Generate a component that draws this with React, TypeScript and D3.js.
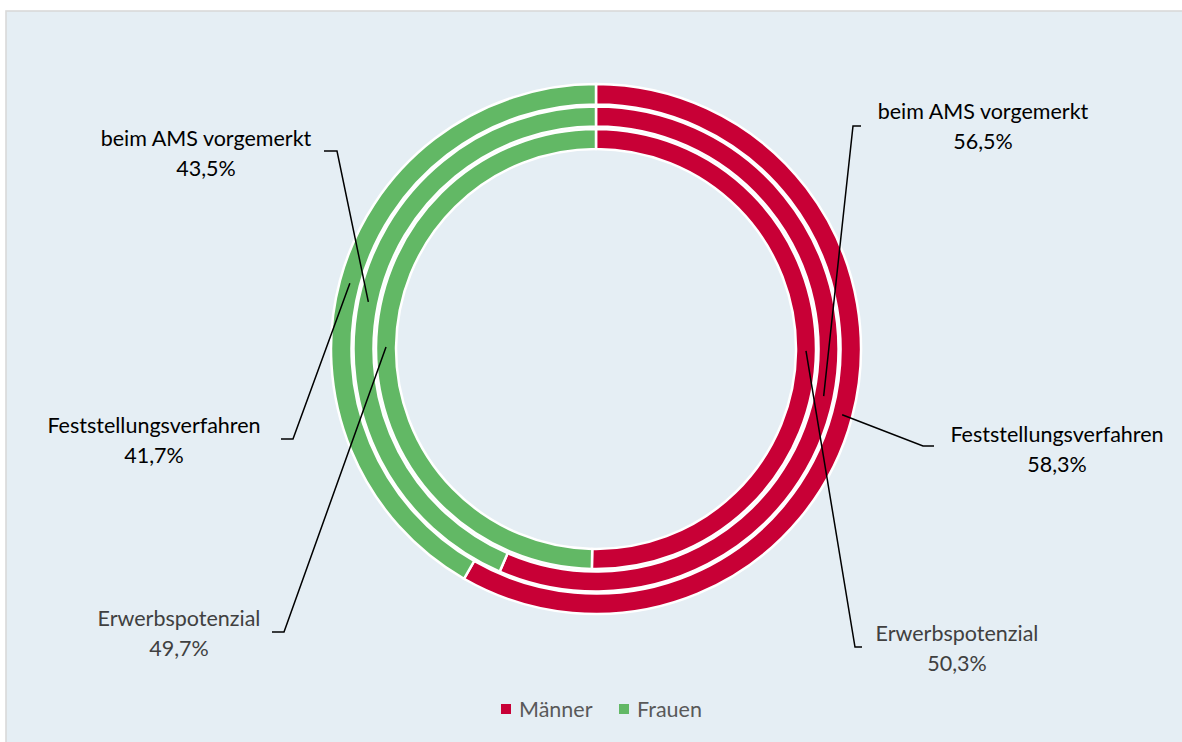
import React from "react";
import * as d3 from "d3";

// rings from outside to inside
const rings = ["Feststellungsverfahren", "beim AMS vorgemerkt", "Erwerbspotenzial"];
const series = ["Männer", "Frauen"];
const maenner = [58.3, 56.5, 50.3];
const frauen = [41.7, 43.5, 49.7];

const colors = { Männer: "#c80036", Frauen: "#62b865" };

// label placement: [ring, series] -> text centre and leader elbow
const labelLayout = [
  { ring: 0, s: 0, tx: 1057, ty: 434, elbow: [923, 446], end: [934, 446], dark: true },
  { ring: 0, s: 1, tx: 154, ty: 425, elbow: [293, 439], end: [281, 439], dark: true },
  { ring: 1, s: 0, tx: 983, ty: 111, elbow: [853, 126], end: [861, 126], dark: true },
  { ring: 1, s: 1, tx: 206, ty: 138, elbow: [337, 151], end: [324, 151], dark: true },
  { ring: 2, s: 0, tx: 957, ty: 633, elbow: [855, 647], end: [862, 647], dark: false },
  { ring: 2, s: 1, tx: 179, ty: 618, elbow: [284, 632], end: [272, 632], dark: false },
];

const W = 1182;
const H = 742;
const cx = 596;
const cy = 349;
const radii = [
  [244.5, 265],
  [222.5, 242.5],
  [200, 220],
];
const font = "Lato, 'Open Sans', sans-serif";
const fs = 21.5;

const fmt = (v: number) => v.toFixed(1).replace(".", ",") + "%";

export default function App() {
  const pie = d3
    .pie<{ name: string; value: number }>()
    .sort(null)
    .value((d) => d.value);

  const ringArcs = rings.map((r, i) => {
    const data = [
      { name: series[0], value: maenner[i] },
      { name: series[1], value: frauen[i] },
    ];
    const arc = d3
      .arc<d3.PieArcDatum<{ name: string; value: number }>>()
      .innerRadius(radii[i][0])
      .outerRadius(radii[i][1]);
    return { name: r, slices: pie(data), arc };
  });

  return (
    <svg
      width={W}
      height={H}
      style={{ position: "absolute", left: 0, top: 0, display: "block" }}
    >
      <rect x={0} y={0} width={W} height={H} fill="#ffffff" />
      <rect
        x={6}
        y={11}
        width={W + 20}
        height={H + 20}
        fill="#e5eef4"
        stroke="#d9d9d9"
        strokeWidth={1.6}
      />
      <g transform={`translate(${cx},${cy})`}>
        {ringArcs.map((r) =>
          r.slices.map((s) => (
            <path
              key={r.name + s.data.name}
              d={r.arc(s) || ""}
              fill={colors[s.data.name as keyof typeof colors]}
              stroke="#ffffff"
              strokeWidth={2.5}
            />
          ))
        )}
      </g>
      {labelLayout.map((l, i) => {
        const r = ringArcs[l.ring];
        const slice = r.slices[l.s];
        const mid = (slice.startAngle + slice.endAngle) / 2;
        const rr = (radii[l.ring][0] + radii[l.ring][1]) / 2;
        const x0 = cx + rr * Math.sin(mid);
        const y0 = cy - rr * Math.cos(mid);
        const value = l.s === 0 ? maenner[l.ring] : frauen[l.ring];
        const fill = l.dark ? "#000000" : "#404040";
        return (
          <g key={i}>
            <polyline
              points={`${x0},${y0} ${l.elbow[0]},${l.elbow[1]} ${l.end[0]},${l.end[1]}`}
              fill="none"
              stroke="#000"
              strokeWidth={1.5}
            />
            <text
              x={l.tx}
              y={l.ty}
              textAnchor="middle"
              dominantBaseline="central"
              fontFamily={font}
              fontSize={fs}
              fill={fill}
            >
              {r.name}
            </text>
            <text
              x={l.tx}
              y={l.ty + 30}
              textAnchor="middle"
              dominantBaseline="central"
              fontFamily={font}
              fontSize={fs}
              fill={fill}
            >
              {fmt(value)}
            </text>
          </g>
        );
      })}
      {series.map((s, i) => (
        <g key={s} transform={`translate(${501 + i * 118},709)`}>
          <rect x={0} y={-5} width={10} height={10} fill={colors[s as keyof typeof colors]} />
          <text
            x={18}
            y={0}
            dominantBaseline="central"
            fontFamily={font}
            fontSize={fs}
            fill="#595959"
          >
            {s}
          </text>
        </g>
      ))}
    </svg>
  );
}
